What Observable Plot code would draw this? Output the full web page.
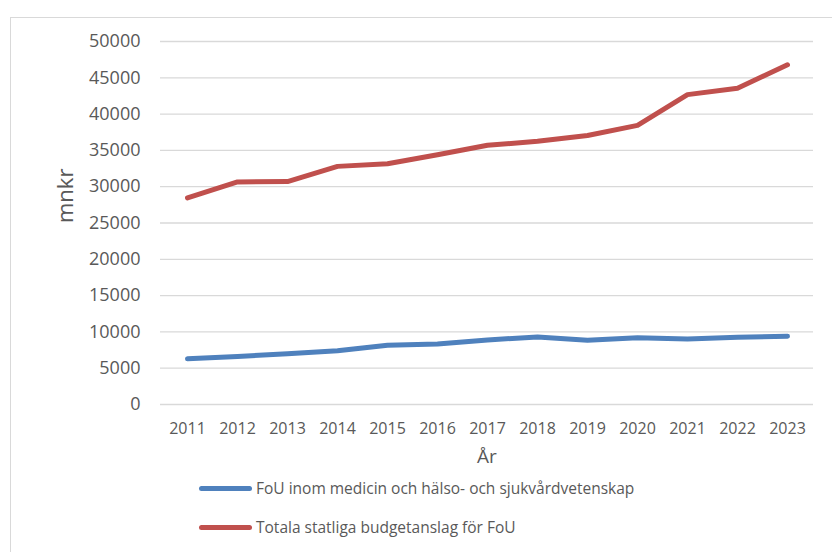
<!DOCTYPE html>
<html>
<head>
<meta charset="utf-8">
<script src="https://cdn.jsdelivr.net/npm/d3@7"></script>
<script src="https://cdn.jsdelivr.net/npm/@observablehq/plot@0.6"></script>
<style>
  html, body { margin: 0; padding: 0; background: #fff; overflow: hidden; }
  body { width: 832px; height: 552px; position: relative; font-family: "Open Sans", sans-serif; }
  #frame { position: absolute; left: 10px; top: 17px; width: 900px; height: 700px; border: 1px solid #d9d9d9; box-sizing: border-box; }
  #chart { position: absolute; left: 0; top: 0; }
  .leg { position: absolute; left: 199px; display: flex; align-items: center; font-size: 15.5px; color: #595959; white-space: nowrap; }
  .sw { width: 53px; height: 5px; border-radius: 3px; margin-right: 4px; }
</style>
</head>
<body>
<div id="frame"></div>
<div id="chart"></div>
<div class="leg" style="top:477px"><div class="sw" style="background:#4f81bd"></div><span id="l1"></span></div>
<div class="leg" style="top:516px"><div class="sw" style="background:#c0504d"></div><span id="l2"></span></div>
<script>
const years = [2011, 2012, 2013, 2014, 2015, 2016, 2017, 2018, 2019, 2020, 2021, 2022, 2023];
const fouMedicin = [6300, 6620, 7000, 7400, 8150, 8330, 8900, 9300, 8850, 9200, 9030, 9250, 9400];
const totalFoU = [28460, 30650, 30700, 32800, 33150, 34400, 35700, 36250, 37050, 38450, 42680, 43570, 46800];
const yTicks = [0, 5000, 10000, 15000, 20000, 25000, 30000, 35000, 40000, 45000, 50000];
const seriesNames = ["FoU inom medicin och hälso- och sjukvårdvetenskap", "Totala statliga budgetanslag för FoU"];
const seriesColors = ["#4f81bd", "#c0504d"];

const rows = [];
years.forEach((y, i) => {
  rows.push({year: y, value: fouMedicin[i], series: seriesNames[0]});
  rows.push({year: y, value: totalFoU[i], series: seriesNames[1]});
});

const chart = Plot.plot({
  width: 832,
  height: 475,
  marginLeft: 160,
  marginRight: 19,
  marginTop: 41,
  marginBottom: 71,
  style: {fontFamily: "Open Sans, sans-serif", background: "transparent", overflow: "visible"},
  x: {type: "point", domain: years, padding: 0.5},
  y: {domain: [0, 50000]},
  color: {domain: seriesNames, range: seriesColors},
  marks: [
    Plot.gridY(yTicks, {stroke: "#d9d9d9", strokeOpacity: 1, strokeWidth: 1.3}),
    Plot.axisY(yTicks, {tickSize: 0, tickPadding: 20, tickFormat: d => String(d), fontSize: 18, fill: "#595959", label: null}),
    Plot.axisX(years, {tickSize: 0, tickPadding: 18, tickFormat: d => String(d), fontSize: 16, fill: "#595959", label: null}),
    Plot.lineY(rows, {x: "year", y: "value", z: "series", stroke: "series", strokeWidth: 5, strokeLinecap: "round", strokeLinejoin: "round"}),
    Plot.text(["År"], {frameAnchor: "bottom", dy: 58, fontSize: 19, fill: "#595959"}),
    Plot.text(["mnkr"], {frameAnchor: "left", dx: -95, rotate: -90, fontSize: 22, fill: "#595959"})
  ]
});
document.getElementById("chart").appendChild(chart);
document.getElementById("l1").textContent = seriesNames[0];
document.getElementById("l2").textContent = seriesNames[1];
</script>
</body>
</html>
